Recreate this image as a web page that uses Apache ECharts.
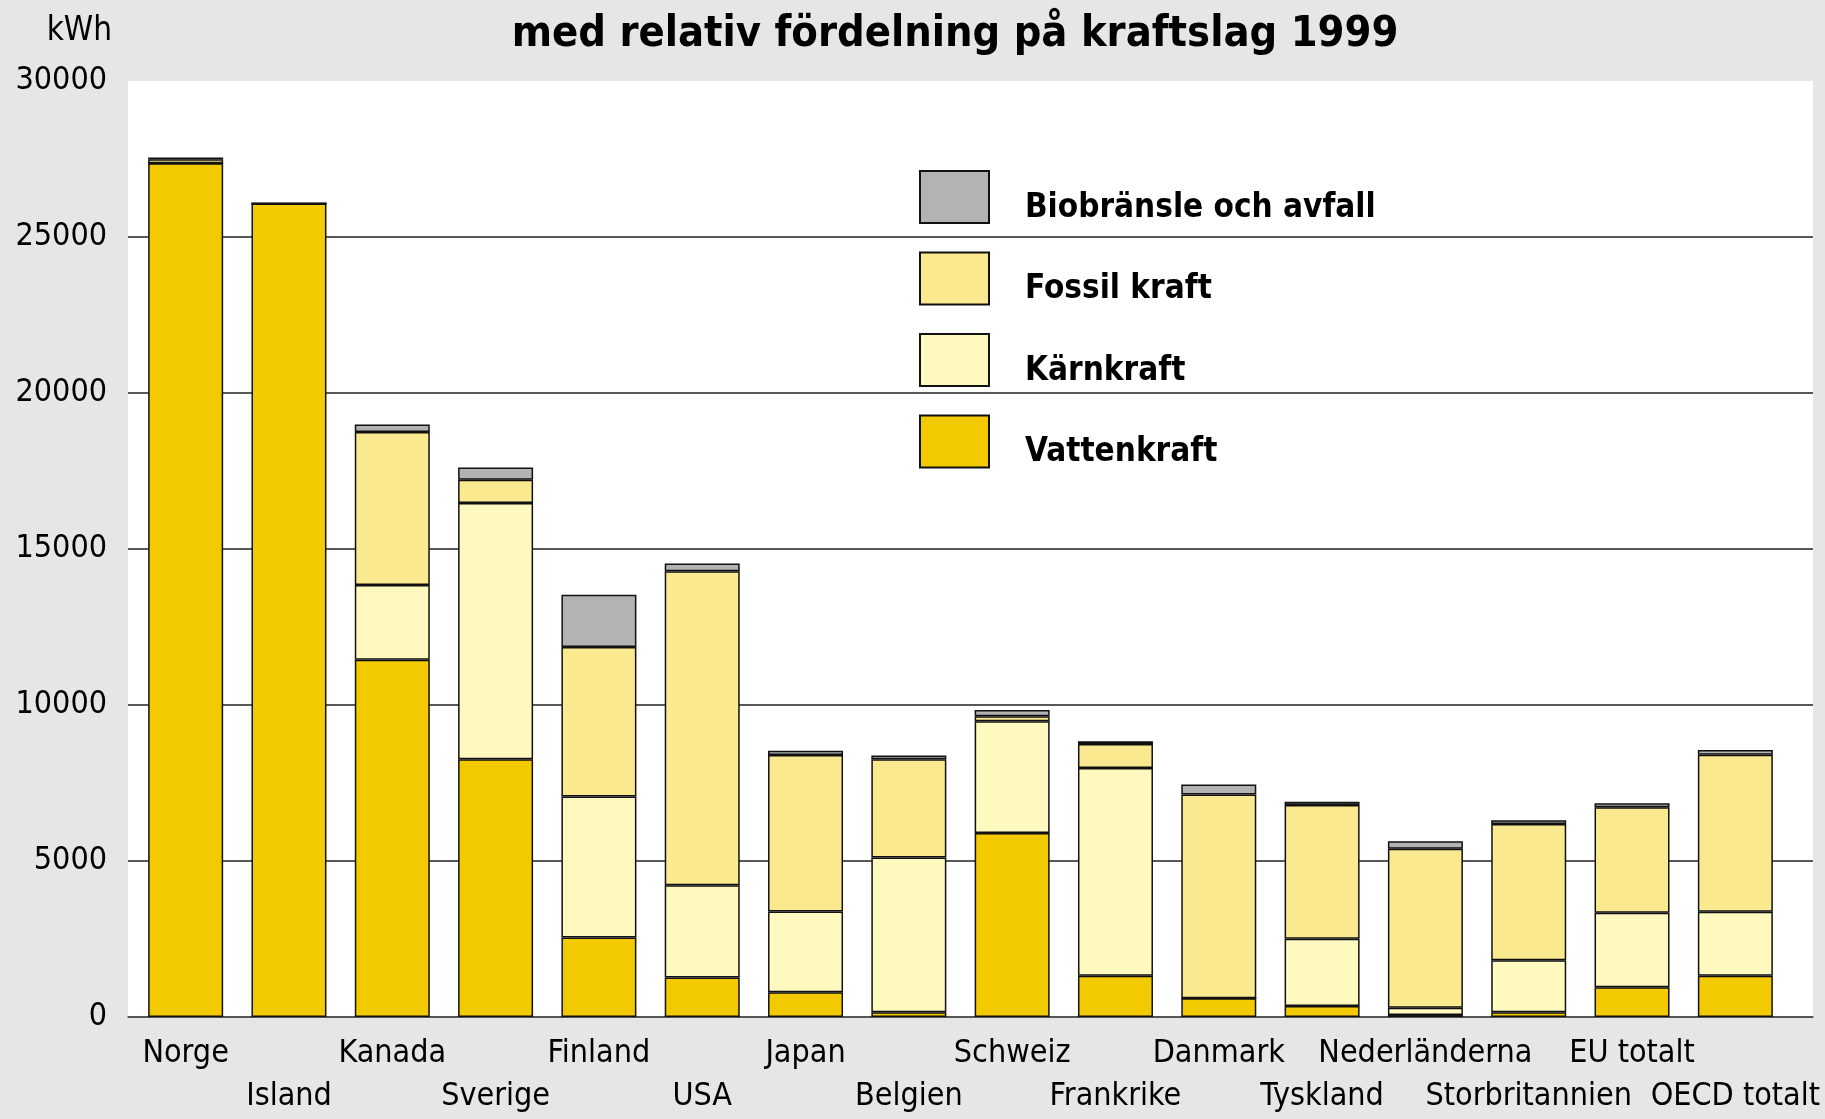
<!DOCTYPE html>
<html>
<head>
<meta charset="utf-8">
<script src="https://cdn.jsdelivr.net/npm/echarts@6/dist/echarts.min.js"></script>
<style>
  html, body { margin: 0; padding: 0; background: #e6e6e6; }
  #main { width: 1825px; height: 1119px; }
</style>
</head>
<body>
<div id="main"></div>
<script>
// kategorier (länder)
var categories = ['Norge', 'Island', 'Kanada', 'Sverige', 'Finland', 'USA', 'Japan', 'Belgien',
  'Schweiz', 'Frankrike', 'Danmark', 'Tyskland', 'Nederländerna', 'Storbritannien', 'EU totalt', 'OECD totalt'];

// kWh per invånare, per kraftslag
var vattenkraft = [27360, 26070, 11450, 8265, 2545, 1270, 790, 150, 5900, 1325, 600, 355, 65, 155, 950, 1325];
var karnkraft   = [0, 0, 2400, 8210, 4520, 2950, 2595, 4960, 3580, 6655, 0, 2155, 235, 1660, 2390, 2050];
var fossilkraft = [130, 0, 4900, 745, 4790, 10070, 5015, 3155, 160, 770, 6535, 4285, 5090, 4370, 3380, 5030];
var biobransle  = [60, 0, 240, 390, 1680, 245, 135, 120, 200, 85, 315, 105, 245, 125, 130, 150];

var yTicks = [0, 5000, 10000, 15000, 20000, 25000, 30000];

var FONT = '"DejaVu Sans Condensed", "Liberation Sans Narrow", sans-serif';

var chart = echarts.init(document.getElementById('main'));

function bar(name, data, color) {
  return {
    name: name,
    type: 'bar',
    stack: 'total',
    xAxisIndex: 1,
    yAxisIndex: 1,
    barWidth: 75,
    data: data,
    itemStyle: { color: color, borderColor: '#111', borderWidth: 1.5 }
  };
}

chart.setOption({
  backgroundColor: '#e6e6e6',
  animation: false,
  title: {
    text: 'med relativ fördelning på kraftslag 1999',
    left: 950,
    textAlign: 'center',
    top: 8,
    textStyle: { fontFamily: FONT, fontSize: 43, fontWeight: 'bold', color: '#000' }
  },
  legend: {
    orient: 'vertical',
    left: 914,
    top: 165,
    icon: 'rect',
    itemWidth: 69,
    itemHeight: 52,
    itemGap: 27,
    data: ['Biobränsle och avfall', 'Fossil kraft', 'Kärnkraft', 'Vattenkraft'],
    formatter: '{t|{name}}',
    textStyle: {
      fontFamily: FONT, fontSize: 33, fontWeight: 'bold', color: '#000', padding: [0, 0, 0, 31],
      rich: { t: { fontFamily: FONT, fontSize: 33, fontWeight: 'bold', color: '#000', padding: [22, 0, 0, 0] } }
    }
  },
  grid: [
    { left: 128, top: 81, width: 1685, height: 936, show: true, backgroundColor: '#fff', borderWidth: 0, outerBoundsMode: 'none' },
    { left: 134, top: 81, width: 1653, height: 936, outerBoundsMode: 'none' }
  ],
  xAxis: [
    {
      type: 'value', gridIndex: 0, min: 0, max: 1,
      axisLine: { show: true, onZero: false, lineStyle: { color: '#555', width: 1.5 } },
      axisTick: { show: false }, axisLabel: { show: false }, splitLine: { show: false }
    },
    {
      type: 'category', gridIndex: 1, data: categories,
      axisLine: { show: false }, axisTick: { show: false },
      axisLabel: {
        interval: 0,
        margin: 15,
        lineHeight: 43,
        fontFamily: FONT, fontSize: 32, color: '#000',
        formatter: function (v, i) { return i % 2 ? '\n' + v : v; }
      }
    }
  ],
  yAxis: [
    {
      type: 'value', gridIndex: 0,
      min: yTicks[0], max: yTicks[yTicks.length - 1], interval: 5000,
      name: 'kWh', nameLocation: 'end', nameGap: 50,
      nameTextStyle: { fontFamily: FONT, fontSize: 33, color: '#000', align: 'right', verticalAlign: 'middle', padding: [0, 16, 0, 0] },
      axisLine: { show: false }, axisTick: { show: false },
      axisLabel: {
        margin: 21, fontFamily: FONT, fontSize: 32, color: '#000',
        formatter: function (v) { return String(v); }
      },
      splitLine: { show: true, showMaxLine: false, lineStyle: { color: '#222', width: 1.5 } }
    },
    {
      type: 'value', gridIndex: 1,
      min: yTicks[0], max: yTicks[yTicks.length - 1], interval: 5000,
      show: false, splitLine: { show: false }
    }
  ],
  series: [
    bar('Vattenkraft', vattenkraft, '#f3c900'),
    bar('Kärnkraft', karnkraft, '#fff9c0'),
    bar('Fossil kraft', fossilkraft, '#fbe98f'),
    bar('Biobränsle och avfall', biobransle, '#b3b3b3')
  ]
});
</script>
</body>
</html>
